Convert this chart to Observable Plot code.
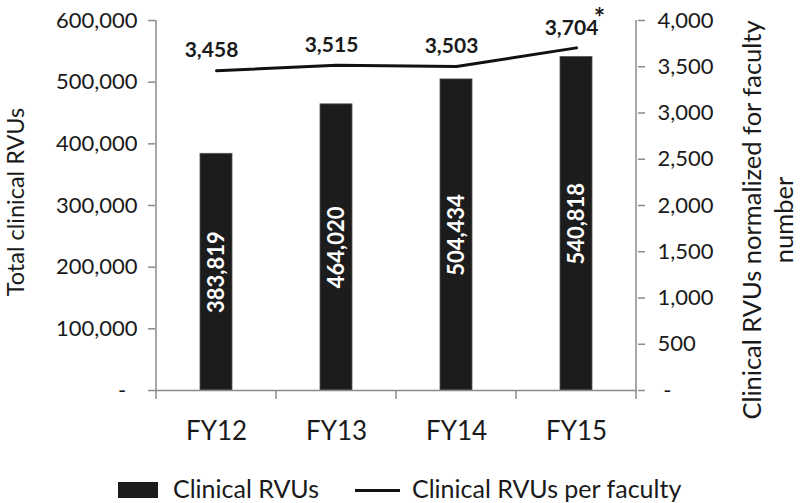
<!DOCTYPE html>
<html><head><meta charset="utf-8">
<script src="https://cdn.jsdelivr.net/npm/d3@7"></script>
<script src="https://cdn.jsdelivr.net/npm/@observablehq/plot@0.6"></script>
<style>
body{margin:0;background:#fff;font-family:Lato, "Open Sans", sans-serif;color:#1a1a1a;}
#wrap{position:relative;width:800px;height:503px;overflow:hidden;background:#fff;}
#legend{position:absolute;left:0;top:470px;width:800px;height:33px;font-size:25px;}
.sw-bar{position:absolute;left:118px;top:12px;width:40px;height:16px;background:#1c1c1c;}
.sw-line{position:absolute;left:355px;top:19px;width:45px;height:3px;background:#111;}
.lt{position:absolute;top:3px;line-height:30px;white-space:nowrap;}
</style></head>
<body><div id="wrap"><div id="chart"></div>
<div id="legend"><div class="sw-bar"></div><div class="lt" style="left:173px">Clinical RVUs</div><div class="sw-line"></div><div class="lt" style="left:412px">Clinical RVUs per faculty</div></div>
</div>
<script>
const categories = ["FY12", "FY13", "FY14", "FY15"];
const clinicalRVUs = [383819, 464020, 504434, 540818];
const rvusPerFaculty = [3458, 3515, 3503, 3704];
const leftTicks = [0, 100000, 200000, 300000, 400000, 500000, 600000];
const rightTicks = [0, 500, 1000, 1500, 2000, 2500, 3000, 3500, 4000];
const flagged = ["FY15"];
const leftTitle = "Total clinical RVUs";
const rightTitle = ["Clinical RVUs normalized for faculty", "number"];

const ratio = leftTicks[leftTicks.length - 1] / rightTicks[rightTicks.length - 1];
const data = categories.map((c, i) => ({cat: c, rvu: clinicalRVUs[i], pf: rvusPerFaculty[i], pfScaled: rvusPerFaculty[i] * ratio}));
const fmt = d3.format(",");

const chart = Plot.plot({
  width: 800, height: 460,
  marginLeft: 155, marginRight: 163, marginTop: 20, marginBottom: 70,
  style: {fontFamily: "Lato, 'Open Sans', sans-serif", color: "#1a1a1a", background: "white", overflow: "visible"},
  x: {domain: categories, paddingInner: 0.73, paddingOuter: 0.365, label: null},
  y: {domain: [leftTicks[0], leftTicks[leftTicks.length - 1]], label: null},
  marks: [
    Plot.axisY(leftTicks, {anchor: "left", tickSize: 7, tickPadding: 11, stroke: "#8a8a8a", strokeWidth: 1.5, fill: "#1a1a1a", fontSize: 22, label: null,
      tickFormat: d => d === 0 ? "-\u00a0\u00a0" : fmt(d)}),
    Plot.axisY(rightTicks.map(v => v * ratio), {anchor: "right", tickSize: 7, tickPadding: 13, stroke: "#8a8a8a", strokeWidth: 1.5, fill: "#1a1a1a", fontSize: 22, label: null,
      tickFormat: d => d === 0 ? "\u00a0-" : fmt(d / ratio)}),
    Plot.axisX({anchor: "bottom", tickSize: 0, tickPadding: 31, fontSize: 26, fill: "#1a1a1a", label: null}),
    Plot.barY(data, {x: "cat", y: "rvu", fill: "#1c1c1c", stroke: "#555", strokeWidth: 0.8}),
    Plot.text(data, {x: "cat", y: d => d.rvu / 2, text: d => fmt(d.rvu), rotate: -90, fill: "white", fontWeight: "bold", fontSize: 22}),
    Plot.line(data, {x: "cat", y: "pfScaled", stroke: "#111", strokeWidth: 3}),
    Plot.text(data, {x: "cat", y: "pfScaled", text: d => fmt(d.pf), dy: -20, dx: -5, fontWeight: "bold", fontSize: 21, fill: "#1a1a1a"}),
    Plot.text(data.filter(d => flagged.includes(d.cat)), {x: "cat", y: "pfScaled", text: () => "*", dx: 23, dy: -30, fontSize: 27, fontWeight: "bold", fill: "#1a1a1a"}),
    Plot.ruleY([0], {stroke: "#8a8a8a", strokeWidth: 1.5})
  ]
});
document.getElementById("chart").appendChild(chart);

// axis lines and category-boundary ticks, positioned from the plot's scales
const xs = chart.scale("x"), ys = chart.scale("y");
const svg = d3.select(chart);
const yb = ys.apply(leftTicks[0]), yt = ys.apply(leftTicks[leftTicks.length - 1]);
const bounds = categories.map(c => xs.apply(c) + xs.bandwidth / 2 - xs.step / 2);
bounds.push(xs.apply(categories[categories.length - 1]) + xs.bandwidth / 2 + xs.step / 2);
const g = svg.append("g").attr("stroke", "#8a8a8a").attr("stroke-width", 1.5);
g.append("line").attr("x1", bounds[0]).attr("x2", bounds[0]).attr("y1", yt).attr("y2", yb);
g.append("line").attr("x1", bounds[bounds.length - 1]).attr("x2", bounds[bounds.length - 1]).attr("y1", yt).attr("y2", yb);
bounds.forEach(b => g.append("line").attr("x1", b).attr("x2", b).attr("y1", yb).attr("y2", yb + 9));

// axis titles
const ym = (yb + yt) / 2;
svg.append("text").attr("transform", `translate(${bounds[0] - 132},${ym - 3}) rotate(-90)`)
  .attr("text-anchor", "middle").attr("font-size", 23.5).attr("fill", "#1a1a1a").text(leftTitle);
const rt = svg.append("text").attr("transform", `translate(${bounds[bounds.length - 1] + 125},${ym + 15}) rotate(-90)`)
  .attr("text-anchor", "middle").attr("font-size", 25.5).attr("fill", "#1a1a1a");
rightTitle.forEach((t, i) => rt.append("tspan").attr("x", 0).attr("dy", i === 0 ? 0 : 32).text(t));
</script>
</body></html>
